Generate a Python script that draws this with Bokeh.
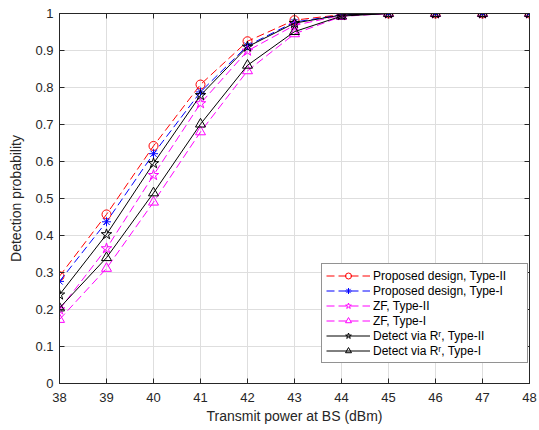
from bokeh.plotting import figure
from bokeh.models import Range1d, FixedTicker, LinearAxis, Legend, LegendItem
from bokeh.embed import file_html
from bokeh.resources import INLINE

power_dbm = [38, 39, 40, 41, 42, 43, 44, 45, 46, 47, 48]
proposed_type2 = [0.290, 0.457, 0.642, 0.808, 0.925, 0.982, 0.997, 1.0, 1.0, 1.0, 1.0]
proposed_type1 = [0.276, 0.437, 0.621, 0.788, 0.913, 0.977, 0.996, 1.0, 1.0, 1.0, 1.0]
zf_type2 = [0.200, 0.365, 0.563, 0.757, 0.899, 0.968, 0.995, 1.0, 1.0, 1.0, 1.0]
zf_type1 = [0.173, 0.311, 0.490, 0.680, 0.845, 0.945, 0.992, 1.0, 1.0, 1.0, 1.0]
detect_type2 = [0.240, 0.403, 0.595, 0.779, 0.910, 0.974, 0.996, 1.0, 1.0, 1.0, 1.0]
detect_type1 = [0.204, 0.340, 0.515, 0.701, 0.860, 0.951, 0.993, 1.0, 1.0, 1.0, 1.0]

x_ticks = [38, 39, 40, 41, 42, 43, 44, 45, 46, 47, 48]
y_ticks = [0, 0.1, 0.2, 0.3, 0.4, 0.5, 0.6, 0.7, 0.8, 0.9, 1]
y_tick_labels = ["0", "0.1", "0.2", "0.3", "0.4", "0.5", "0.6", "0.7", "0.8", "0.9", "1"]

series = [
    ("Proposed design, Type-II", proposed_type2, "#ff0000", "dashed", "circle"),
    ("Proposed design, Type-I", proposed_type1, "#0000ff", "dashed", "asterisk"),
    ("ZF, Type-II", zf_type2, "#ff00ff", "dashed", "star"),
    ("ZF, Type-I", zf_type1, "#ff00ff", "dashed", "triangle"),
    ("Detect via R\u02b3, Type-II", detect_type2, "#000000", "solid", "star"),
    ("Detect via R\u02b3, Type-I", detect_type1, "#000000", "solid", "triangle"),
]
marker_sizes = {"circle": 9, "asterisk": 9, "star": 11, "triangle": 10}

FONT = "Liberation Sans"
AX = "#262626"

p = figure(width=539, height=430, output_backend="svg", toolbar_location=None,
           x_range=Range1d(38, 48), y_range=Range1d(0, 1),
           min_border_left=59, min_border_right=10, min_border_top=13, min_border_bottom=47)
p.outline_line_color = AX
p.outline_line_width = 1
p.background_fill_color = "white"
p.border_fill_color = "white"

p.xaxis.ticker = FixedTicker(ticks=x_ticks)
p.yaxis.ticker = FixedTicker(ticks=y_ticks)
p.yaxis.major_label_overrides = {t: l for t, l in zip(y_ticks, y_tick_labels)}
p.xaxis.major_label_overrides = {t: str(t) for t in x_ticks}
for ax in (p.xaxis[0], p.yaxis[0]):
    ax.major_tick_in = 5
    ax.major_tick_out = 0
    ax.minor_tick_in = 0
    ax.minor_tick_out = 0
    ax.axis_line_color = AX
    ax.major_tick_line_color = AX
    ax.major_label_text_font = FONT
    ax.major_label_text_font_size = "13px"
    ax.major_label_text_color = AX
    ax.axis_label_text_font = FONT
    ax.axis_label_text_font_size = "14px"
    ax.axis_label_text_font_style = "normal"
    ax.axis_label_text_color = AX
p.xaxis.axis_label = "Transmit power at BS (dBm)"
p.yaxis.axis_label = "Detection probability"
p.xaxis.major_label_standoff = 9
p.yaxis.major_label_standoff = 6
p.xaxis.axis_label_standoff = 3
p.yaxis.axis_label_standoff = 8

top = LinearAxis(ticker=FixedTicker(ticks=x_ticks),
                 major_label_overrides={t: "" for t in x_ticks},
                 major_tick_in=5, major_tick_out=0, minor_tick_in=0, minor_tick_out=0,
                 axis_line_color=AX, major_tick_line_color=AX, major_label_standoff=0)
right = LinearAxis(ticker=FixedTicker(ticks=y_ticks),
                   major_label_overrides={t: "" for t in y_ticks},
                   major_tick_in=5, major_tick_out=0, minor_tick_in=0, minor_tick_out=0,
                   axis_line_color=AX, major_tick_line_color=AX, major_label_standoff=0)
p.add_layout(top, "above")
p.add_layout(right, "right")

p.xgrid.grid_line_color = "#dedede"
p.ygrid.grid_line_color = "#dedede"
p.xgrid.grid_line_width = 1
p.ygrid.grid_line_width = 1

items = []
for label, vals, color, dash, marker in series:
    ld = "8 4" if dash == "dashed" else "solid"
    r1 = p.line(power_dbm, vals, line_color=color, line_width=1, line_dash=ld)
    r2 = p.scatter(power_dbm, vals, marker=marker, size=marker_sizes[marker],
                   line_color=color, fill_color=None, line_width=1)
    items.append(LegendItem(label=label, renderers=[r1, r2]))

legend = Legend(items=items, location=(262, 20))
legend.label_text_font = FONT
legend.label_text_font_size = "12px"
legend.label_text_color = "#000000"
legend.glyph_width = 44
legend.glyph_height = 15
legend.label_height = 15
legend.label_width = 150
legend.label_standoff = 3
legend.spacing = 0
legend.padding = 4
legend.margin = 0
legend.border_line_color = AX
legend.border_line_width = 1
legend.background_fill_color = "white"
legend.background_fill_alpha = 1
p.add_layout(legend, "center")

open("out.html", "w").write(file_html(p, INLINE))
